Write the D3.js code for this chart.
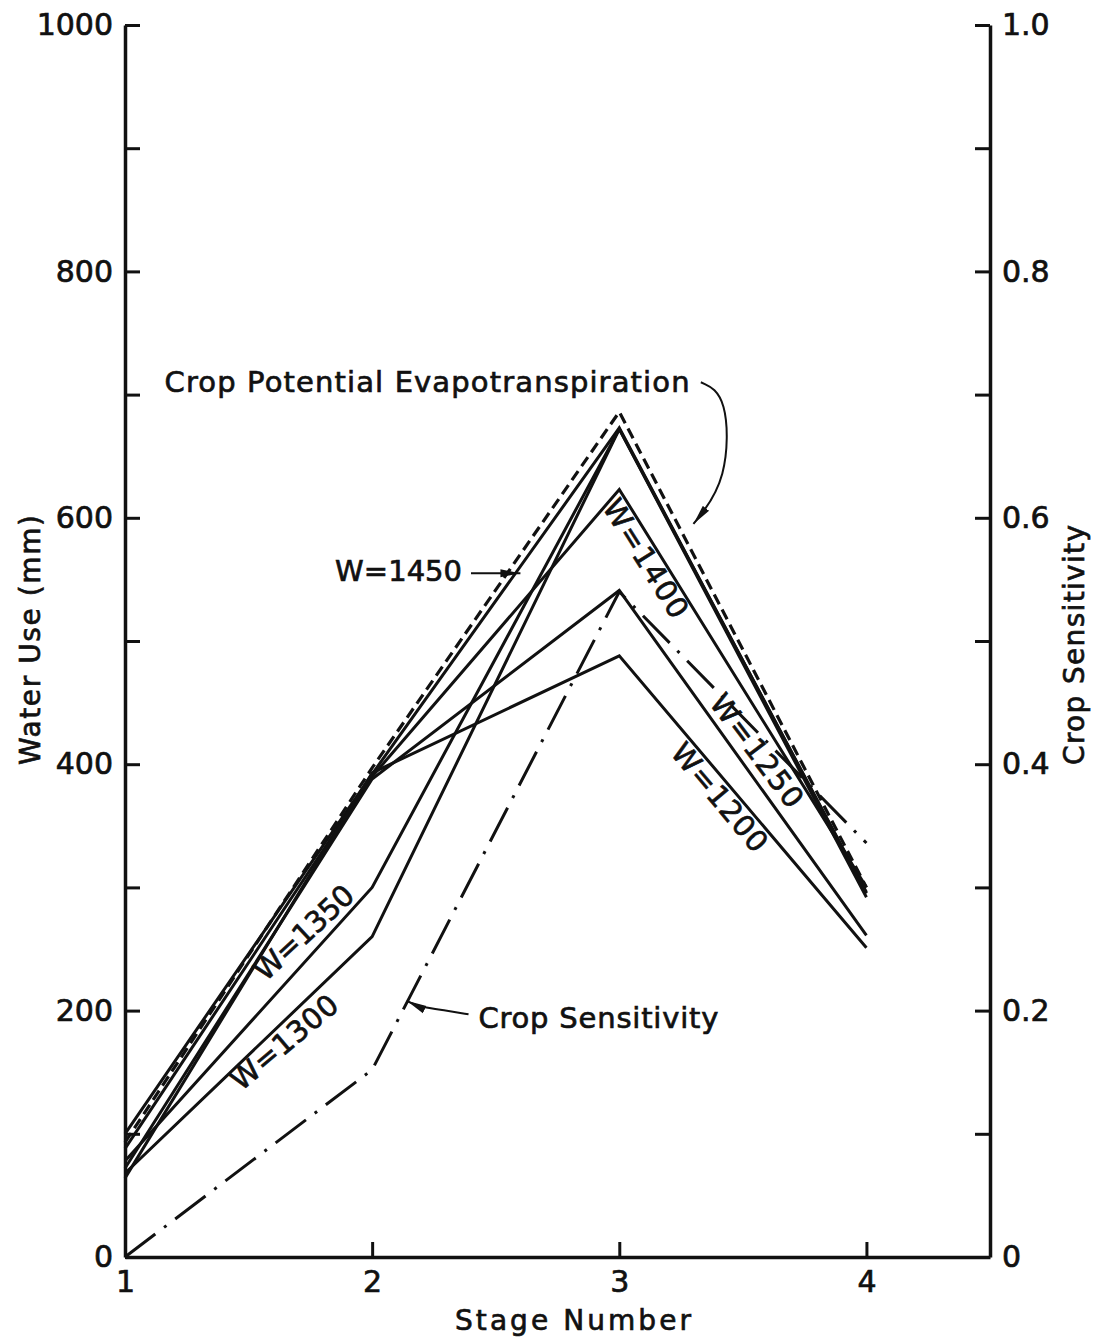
<!DOCTYPE html>
<html lang="en">
<head>
    <meta charset="UTF-8">
    <title>Water Use by Stage</title>
    <script src="https://d3js.org/d3.v7.min.js"></script>
    <style>
        body { margin: 0; background: #fff; }
        text { font-family: "DejaVu Sans", sans-serif; fill: #111; stroke: #111; stroke-width: 0.7px; }
    </style>
</head>
<body>
    <div id="chart"></div>

    <script>
        // stage numbers and water use series (mm)
        const stages = [1, 2, 3, 4];
        const w1450 = [100, 392, 673, 295];
        const w1400 = [88, 390, 623, 300];
        const w1350 = [78, 300, 672, 292];
        const w1300 = [68, 260, 672, 296];
        const w1250 = [72, 388, 541, 261];
        const w1200 = [64, 393, 488, 251];
        const cropET = [93, 397, 686, 300];
        // crop sensitivity (right axis)
        const cropSens = [0, 0.152, 0.54, 0.336];

        const leftTicks = d3.range(0, 1001, 100);
        const rightTicks = d3.range(0, 1.01, 0.1);

        const width = 1097, height = 1340;
        const svg = d3.select("#chart").append("svg")
            .attr("width", width)
            .attr("height", height);

        const x = d3.scaleLinear().domain([1, 4.5]).range([125, 990]);
        const y = d3.scaleLinear().domain([0, 1000]).range([1257, 25]);
        const yR = d3.scaleLinear().domain([0, 1]).range([1257, 25]);

        // arrowhead
        svg.append("defs").append("marker")
            .attr("id", "arrow")
            .attr("viewBox", "0 0 20 10")
            .attr("refX", 20).attr("refY", 5)
            .attr("markerWidth", 20).attr("markerHeight", 10)
            .attr("markerUnits", "userSpaceOnUse")
            .attr("orient", "auto")
            .append("path")
            .attr("d", "M0,1 L20,5 L0,9 Z")
            .attr("fill", "#111");

        // axes
        const styleAxis = g => {
            g.select(".domain").attr("stroke", "#111").attr("stroke-width", 3.5);
            g.selectAll(".tick line").attr("stroke", "#111").attr("stroke-width", 3);
            g.selectAll(".tick text").style("font-size", "30px").attr("fill", "#111");
        };

        svg.append("g")
            .attr("transform", "translate(125,0)")
            .call(d3.axisLeft(y).tickValues(leftTicks).tickSize(-15).tickSizeOuter(0).tickPadding(12)
                .tickFormat(d => d % 200 === 0 ? d : ""))
            .call(styleAxis);

        svg.append("g")
            .attr("transform", "translate(990,0)")
            .call(d3.axisRight(yR).tickValues(rightTicks).tickSize(-15).tickSizeOuter(0).tickPadding(12)
                .tickFormat(d => {
                    const r = Math.round(d * 10);
                    if (r % 2 !== 0) return "";
                    return r === 0 ? "0" : (r / 10).toFixed(1);
                }))
            .call(styleAxis);

        svg.append("g")
            .attr("transform", "translate(0,1257)")
            .call(d3.axisBottom(x).tickValues(stages).tickSize(-15).tickSizeOuter(0).tickPadding(14)
                .tickFormat(d3.format("d")))
            .call(styleAxis);

        // axis titles
        const title = (txt, tx, ty, angle, len) => {
            svg.append("text")
                .attr("transform", `translate(${tx},${ty}) rotate(${angle})`)
                .attr("text-anchor", "middle")
                .attr("textLength", len)
                .attr("lengthAdjust", "spacing")
                .style("font-size", "28px")
                .text(txt);
        };
        title("Water Use (mm)", 40, 640, -90, 250);
        title("Crop Sensitivity", 1084, 645, -90, 240);
        title("Stage Number", 573, 1330, 0, 236);

        // lines
        const line = d3.line().x((d, i) => x(stages[i])).y(d => y(d));
        const lineR = d3.line().x((d, i) => x(stages[i])).y(d => yR(d));

        [w1450, w1400, w1350, w1300, w1250, w1200].forEach(s => {
            svg.append("path")
                .attr("d", line(s))
                .attr("fill", "none")
                .attr("stroke", "#111")
                .attr("stroke-width", 3)
                .attr("stroke-linejoin", "miter");
        });

        svg.append("path")
            .attr("d", line(cropET))
            .attr("fill", "none")
            .attr("stroke", "#111")
            .attr("stroke-width", 3.2)
            .attr("stroke-dasharray", "11,6");

        svg.append("path")
            .attr("d", lineR(cropSens))
            .attr("fill", "none")
            .attr("stroke", "#111")
            .attr("stroke-width", 3)
            .attr("stroke-dasharray", "38,11,3,11");

        // labels, positioned in data units
        const label = (txt, s, v, angle, len, anchor) => {
            svg.append("text")
                .attr("transform", `translate(${x(s)},${y(v)}) rotate(${angle})`)
                .attr("text-anchor", anchor || "middle")
                .attr("dominant-baseline", "middle")
                .attr("textLength", len)
                .attr("lengthAdjust", "spacing")
                .style("font-size", "29px")
                .text(txt);
        };

        label("Crop Potential Evapotranspiration", 1.16, 709, 0, 525, "start");
        label("W=1450", 1.85, 555, 0, 127, "start");
        label("W=1400", 3.1, 566, 58, 134);
        label("W=1350", 1.73, 262, -43, 124);
        label("W=1300", 1.65, 173, -40, 130);
        label("W=1250", 3.55, 410, 53, 134);
        label("W=1200", 3.4, 372, 50, 132);
        label("Crop Sensitivity", 2.43, 192, 0, 240, "start");

        // pointer arrows
        const ptr = pts => svg.append("path")
            .attr("d", d3.line().curve(d3.curveBasis)(pts.map(p => [x(p[0]), y(p[1])])))
            .attr("fill", "none")
            .attr("stroke", "#111")
            .attr("stroke-width", 2)
            .attr("marker-end", "url(#arrow)");

        ptr([[2.4, 555], [2.48, 555], [2.6, 555]]);
        ptr([[3.33, 710], [3.44, 700], [3.44, 630], [3.3, 595]]);
        ptr([[2.39, 197], [2.3, 200], [2.19, 203], [2.14, 208]]);
    </script>
</body>
</html>
